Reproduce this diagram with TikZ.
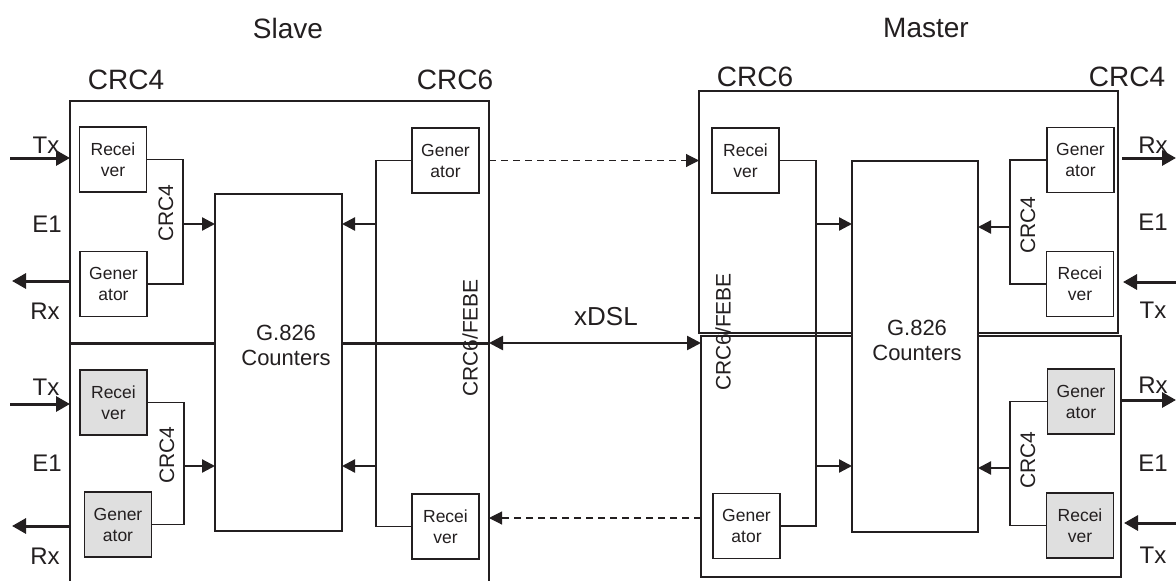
\documentclass[tikz,border=0pt]{standalone}
\usepackage{fontspec}
\setmainfont{Liberation Sans}
\usetikzlibrary{arrows.meta}
\definecolor{ink}{HTML}{231F20}
\begin{document}
\begin{tikzpicture}[x=1pt,y=-1pt,
  every node/.style={text=ink},
  blk/.style={draw=ink, line width=1.9pt, inner sep=0pt, outer sep=0pt, minimum width=67pt, minimum height=65pt, align=center, font=\fontsize{17.5}{21}\selectfont, fill=white},
  shaded/.style={blk, fill=gray!25},
  frame/.style={draw=ink, line width=2.3pt, inner sep=0pt, outer sep=0pt, anchor=north west},
  ctr/.style={draw=ink, line width=2pt, fill=white, inner sep=0pt, outer sep=0pt},
  wire/.style={draw=ink, line width=1.6pt},
  arr/.style={draw=ink, line width=2.3pt, -{Triangle[length=13pt,width=13pt]}},
  io/.style={draw=ink, line width=3pt, -{Triangle[length=14pt,width=15pt]}},
  dsh/.style={draw=ink, line width=1.1pt, dash pattern=on 7pt off 5pt, -{Triangle[length=13pt,width=13pt]}},
  big/.style={font=\fontsize{28}{30}\selectfont},
  lbl/.style={font=\fontsize{24}{26}\selectfont},
  vlbl/.style={font=\fontsize{21}{23}\selectfont, rotate=90},
  cnt/.style={font=\fontsize{22}{25}\selectfont, align=center},
]
\fill[white] (0,0) rectangle (1176,581);
\useasboundingbox (0,0) rectangle (1176,581);

% titles
\node[big] (tS) at (288,28) {Slave};
\node[big] (tM) at (926,28) {Master};
\node[big] (tS4) at (126,80) {CRC4};
\node[big] (tS6) at (455,80) {CRC6};
\node[big] (tM6) at (755,77) {CRC6};
\node[big] (tM4) at (1127,77) {CRC4};

% frames
\node[frame, minimum width=419pt, minimum height=242pt] (sU) at (70,101) {};
\draw[draw=ink, line width=2.3pt] (70,590) -- (70,343) -- (489,343) -- (489,590);
\draw[draw=ink, line width=3pt] (70,343) -- (489,343);
\node[frame, minimum width=419pt, minimum height=242pt] (mU) at (699,91) {};
\node[frame, minimum width=420pt, minimum height=241pt] (mL) at (701,336) {};

% counters
\node[ctr, minimum width=127pt, minimum height=337pt] (sG) at (278.5,362.5) {};
\node[cnt] (sGt) at (286,345) {G.826\\Counters};
\node[ctr, minimum width=126pt, minimum height=371pt] (mG) at (915,346.5) {};
\node[cnt] (mGt) at (917,340) {G.826\\Counters};

% slave blocks
\node[blk] (sRx1) at (113,159.5) {Recei\\ver};
\node[blk] (sGen1) at (113.5,284) {Gener\\ator};
\node[blk] (sGen6) at (445.5,160.5) {Gener\\ator};
\node[shaded] (sRx2) at (113.5,402.5) {Recei\\ver};
\node[shaded] (sGen2) at (118,524.5) {Gener\\ator};
\node[blk] (sRx6) at (445.5,526.5) {Recei\\ver};

% master blocks
\node[blk] (mRx6) at (745.5,160.5) {Recei\\ver};
\node[blk] (mGen6) at (746.5,526) {Gener\\ator};
\node[blk] (mGen1) at (1080.5,160) {Gener\\ator};
\node[blk] (mRx1) at (1080,284) {Recei\\ver};
\node[shaded] (mGen2) at (1081,401.5) {Gener\\ator};
\node[shaded] (mRx2) at (1080,525.5) {Recei\\ver};

% slave CRC4 wiring
\coordinate (sB1) at (183,224);
\draw[wire] (sRx1.east) -| (sB1) |- (sGen1.east);
\draw[arr] (sB1) -- (sB1 -| sG.west);
\coordinate (sB2) at (184,466);
\draw[wire] (sRx2.east) -| (sB2) |- (sGen2.east);
\draw[arr] (sB2) -- (sB2 -| sG.west);

% slave CRC6 wiring
\coordinate (sB6) at (376,283);
\draw[wire] (sGen6.west) -| (sB6);
\draw[wire] (sRx6.west) -| (sB6);
\coordinate (sA6a) at (376,224);
\coordinate (sA6b) at (376,466);
\draw[arr] (sA6a) -- (sA6a -| sG.east);
\draw[arr] (sA6b) -- (sA6b -| sG.east);

% master CRC6 wiring
\coordinate (mB6) at (816,283);
\draw[wire] (mRx6.east) -| (mB6);
\draw[wire] (mGen6.east) -| (mB6);
\coordinate (mA6a) at (816,224);
\coordinate (mA6b) at (816,466);
\draw[arr] (mA6a) -- (mA6a -| mG.west);
\draw[arr] (mA6b) -- (mA6b -| mG.west);

% master CRC4 wiring
\coordinate (mB1) at (1010,227);
\draw[wire] (mGen1.west) -| (mB1) |- (mRx1.west);
\draw[arr] (mB1) -- (mB1 -| mG.east);
\coordinate (mB2) at (1010,468);
\draw[wire] (mGen2.west) -| (mB2) |- (mRx2.west);
\draw[arr] (mB2) -- (mB2 -| mG.east);

% E1 ports slave
\coordinate (sTxo1) at (10,158);
\draw[io] (sTxo1) -- (sTxo1 -| sU.west);
\coordinate (sRxo1) at (12,281);
\draw[io] (sRxo1 -| sU.west) -- (sRxo1);
\coordinate (sTxo2) at (10,404);
\draw[io] (sTxo2) -- (sTxo2 -| sU.west);
\coordinate (sRxo2) at (12,526);
\draw[io] (sRxo2 -| sU.west) -- (sRxo2);

% E1 ports master
\coordinate (mRxo1) at (1176,158);
\draw[io, shorten <=4pt] (mU.east |- mRxo1) -- (mRxo1);
\coordinate (mTxo1) at (1176,282);
\draw[io, shorten >=5pt] (mTxo1) -- (mTxo1 -| mU.east);
\coordinate (mRxo2) at (1176,400);
\draw[io] (mL.east |- mRxo2) -- (mRxo2);
\coordinate (mTxo2) at (1176,523);
\draw[io, shorten >=3pt] (mTxo2) -- (mTxo2 -| mL.east);

% xDSL link and CRC6 paths
\draw[draw=ink, line width=2.6pt, {Triangle[length=14pt,width=14pt]}-{Triangle[length=14pt,width=14pt]}] (sU.south east) -- (sU.south east -| mL.west);
\draw[dsh] (sU.east |- sGen6.east) -- (mU.west |- sGen6.east);
\coordinate (dB) at (600,518);
\draw[dsh] (mL.west |- dB) -- (sU.east |- dB);

% labels
\node[lbl] (sTxa) at (46,145) {Tx};
\node[lbl] (sE1a) at (47,224) {E1};
\node[lbl] (sRxa) at (45,311) {Rx};
\node[lbl] (sTxb) at (46,387) {Tx};
\node[lbl] (sE1b) at (47,463) {E1};
\node[lbl] (sRxb) at (45,556) {Rx};
\node[lbl] (mRxa) at (1153,145) {Rx};
\node[lbl] (mE1a) at (1153,222) {E1};
\node[lbl] (mTxa) at (1153,310) {Tx};
\node[lbl] (mRxb) at (1153,385) {Rx};
\node[lbl] (mE1b) at (1153,463) {E1};
\node[lbl] (mTxb) at (1153,555) {Tx};
\node[font=\fontsize{26}{28}\selectfont] (xd) at (606,317) {xDSL};

\node[vlbl] (sc4a) at (166,213) {CRC4};
\node[vlbl] (sc4b) at (167,455) {CRC4};
\node[vlbl] (mc4a) at (1028,225) {CRC4};
\node[vlbl] (mc4b) at (1028,460) {CRC4};
\node[vlbl] (sfe) at (470,338) {CRC6/FEBE};
\node[vlbl] (mfe) at (723,332) {CRC6/FEBE};
\end{tikzpicture}
\end{document}
